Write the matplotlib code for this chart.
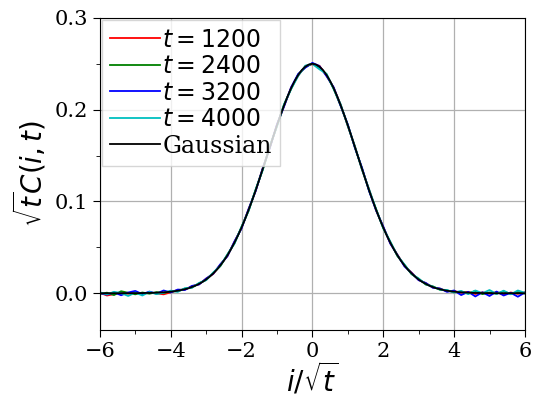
import matplotlib
matplotlib.use('Agg')
import matplotlib.pyplot as plt
from matplotlib.ticker import MultipleLocator

plt.rcParams['font.family'] = 'DejaVu Serif'
plt.rcParams['mathtext.fontset'] = 'dejavusans'

# scaled position i/sqrt(t), data sampled every 0.2
x = [round(-6.0 + 0.2 * k, 1) for k in range(61)]
# gaussian reference sampled every 0.1
xg = [round(-6.0 + 0.1 * k, 1) for k in range(121)]

# right half of the gaussian curve (x = 0.1 ... 6.0), peak 0.25 at x = 0
gauss_half = [0.2492, 0.2469, 0.2431, 0.2378, 0.2312, 0.2234, 0.2145, 0.2047, 0.1941, 0.1829,
              0.1713, 0.1594, 0.1474, 0.1355, 0.1238, 0.1123, 0.1013, 0.0908, 0.0809, 0.0716,
              0.0630, 0.0551, 0.0479, 0.0413, 0.0355, 0.0302, 0.0256, 0.0216, 0.0181, 0.0150,
              0.0124, 0.0102, 0.0083, 0.0068, 0.0054, 0.0044, 0.0035, 0.0027, 0.0022, 0.0017,
              0.0013, 0.0010, 0.0008, 0.0006, 0.0004, 0.0003, 0.0003, 0.0002, 0.0001, 0.0001,
              0.0, 0.0, 0.0, 0.0, 0.0, 0.0, 0.0, 0.0, 0.0, 0.0]
gauss = gauss_half[::-1] + [0.2500] + gauss_half

c1200 = [0.0005, -0.0025, -0.0010, 0.0008, -0.0005, 0.0012, -0.0008, 0.0010, -0.0002, -0.0012,
         0.0010, 0.0035, 0.0040, 0.0075, 0.0098, 0.0158, 0.0210, 0.0310, 0.0405, 0.0560,
         0.0712, 0.0915, 0.1118, 0.1362, 0.1590, 0.1835, 0.2040, 0.2240, 0.2372, 0.2475,
         0.2495,
         0.2478, 0.2370, 0.2240, 0.2052, 0.1822, 0.1600, 0.1350, 0.1130, 0.0902, 0.0722,
         0.0545, 0.0420, 0.0298, 0.0225, 0.0145, 0.0110, 0.0062, 0.0050, 0.0022, 0.0025,
         0.0005, 0.0015, -0.0008, 0.0010, -0.0005, 0.0012, -0.0015, 0.0008, -0.0006, 0.0010]

c2400 = [-0.0008, 0.0006, -0.0020, 0.0022, 0.0005, -0.0012, 0.0008, -0.0005, 0.0012, 0.0002,
         0.0020, 0.0022, 0.0050, 0.0062, 0.0108, 0.0145, 0.0222, 0.0295, 0.0420, 0.0545,
         0.0722, 0.0900, 0.1130, 0.1348, 0.1600, 0.1822, 0.2055, 0.2228, 0.2385, 0.2462,
         0.2505,
         0.2462, 0.2385, 0.2228, 0.2040, 0.1836, 0.1588, 0.1362, 0.1115, 0.0915, 0.0710,
         0.0558, 0.0405, 0.0310, 0.0208, 0.0158, 0.0095, 0.0075, 0.0038, 0.0032, 0.0010,
         0.0018, -0.0002, 0.0025, -0.0010, 0.0008, -0.0005, 0.0020, -0.0008, 0.0012, -0.0004]

c3200 = [0.0002, -0.0015, 0.0010, -0.0022, 0.0008, 0.0025, -0.0010, 0.0018, -0.0005, 0.0030,
         0.0008, 0.0040, 0.0035, 0.0080, 0.0095, 0.0160, 0.0212, 0.0315, 0.0402, 0.0565,
         0.0705, 0.0920, 0.1115, 0.1365, 0.1585, 0.1840, 0.2035, 0.2245, 0.2390, 0.2458,
         0.2510,
         0.2475, 0.2365, 0.2245, 0.2040, 0.1838, 0.1585, 0.1368, 0.1115, 0.0900, 0.0728,
         0.0540, 0.0418, 0.0292, 0.0222, 0.0142, 0.0112, 0.0060, 0.0052, 0.0015, 0.0030,
         -0.0020, 0.0015, -0.0035, 0.0010, -0.0030, 0.0018, -0.0025, 0.0005, -0.0038, 0.0008]

c4000 = [0.0010, -0.0012, 0.0015, 0.0002, -0.0030, 0.0008, -0.0025, 0.0015, -0.0010, 0.0005,
         0.0028, 0.0015, 0.0055, 0.0060, 0.0112, 0.0142, 0.0225, 0.0298, 0.0422, 0.0540,
         0.0725, 0.0898, 0.1132, 0.1345, 0.1605, 0.1818, 0.2058, 0.2225, 0.2368, 0.2480,
         0.2498,
         0.2440, 0.2390, 0.2225, 0.2058, 0.1820, 0.1602, 0.1345, 0.1135, 0.0912, 0.0708,
         0.0562, 0.0410, 0.0312, 0.0210, 0.0160, 0.0098, 0.0072, 0.0040, 0.0035, 0.0008,
         0.0025, -0.0010, 0.0030, 0.0000, 0.0035, -0.0008, 0.0028, -0.0012, 0.0030, 0.0005]

fig = plt.figure(figsize=(5.34, 3.98), dpi=100)
ax = fig.add_axes([0.187, 0.171, 0.796, 0.784])

ax.plot(x, c1200, color='r', lw=1.3, label=r'$t=1200$')
ax.plot(x, c2400, color='g', lw=1.3, label=r'$t=2400$')
ax.plot(x, c3200, color='b', lw=1.3, label=r'$t=3200$')
ax.plot(x, c4000, color='c', lw=1.3, label=r'$t=4000$')
ax.plot(xg, gauss, color='k', lw=1.3, label='Gaussian')

ax.set_xlim(-6, 6)
ax.set_ylim(-0.04, 0.3)
ax.xaxis.set_major_locator(MultipleLocator(2))
ax.xaxis.set_minor_locator(MultipleLocator(1))
ax.yaxis.set_major_locator(MultipleLocator(0.1))
ax.yaxis.set_minor_locator(MultipleLocator(0.05))
ax.tick_params(which='major', length=5, labelsize=15)
ax.tick_params(which='minor', length=3)
ax.grid(True, which='major', color='#b0b0b0', lw=0.9)

ax.set_xlabel(r'$i/\sqrt{t}$', fontsize=20, labelpad=0)
ax.set_ylabel(r'$\sqrt{t}C(i,t)$', fontsize=20, labelpad=4)

ax.legend(loc='upper left', fontsize=17, handlelength=2.1, handletextpad=0.1,
          labelspacing=0.15, borderaxespad=0.1, borderpad=0.35, fancybox=False)

fig.savefig('out.png')
plt.close()
